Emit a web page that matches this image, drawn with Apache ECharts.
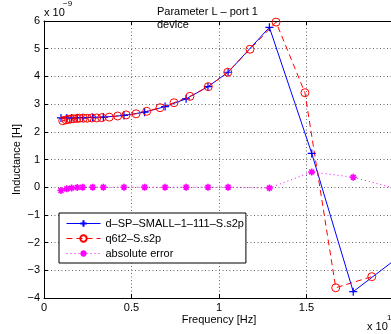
<!DOCTYPE html>
<html>
<head>
<meta charset="utf-8">
<script src="https://cdn.jsdelivr.net/npm/echarts@6.0.0/dist/echarts.min.js"></script>
<style>
  html, body { margin: 0; padding: 0; background: #fff; }
  #chart { width: 391px; height: 334px; }
</style>
</head>
<body>
<div id="chart"></div>
<script>
// frequency in 1e10 Hz, inductance in 1e-9 H
var measFreq = [0.097, 0.13, 0.158, 0.19, 0.221, 0.278, 0.339, 0.457, 0.575, 0.692, 0.812, 0.937, 1.052, 1.288, 1.53, 1.767, 2.01];
var measL = [2.50, 2.50, 2.50, 2.51, 2.51, 2.52, 2.53, 2.59, 2.71, 2.91, 3.19, 3.63, 4.15, 5.77, 1.22, -3.77, -2.6];
var errL = [-0.12, -0.06, -0.03, -0.01, 0, 0, 0, 0, 0, 0, 0, 0, 0, -0.03, 0.55, 0.36, -0.05];

var modelFreq = [0.107, 0.126, 0.139, 0.153, 0.167, 0.187, 0.202, 0.225, 0.247, 0.273, 0.301, 0.33, 0.373, 0.421,
  0.469, 0.526, 0.587, 0.663, 0.743, 0.834, 0.939, 1.05, 1.177, 1.326, 1.491, 1.667, 1.873];
var modelL = [2.40, 2.43, 2.45, 2.46, 2.47, 2.48, 2.49, 2.49, 2.49, 2.50, 2.50, 2.51, 2.53, 2.57,
  2.61, 2.65, 2.74, 2.87, 3.05, 3.28, 3.63, 4.15, 4.98, 5.96, 3.41, -3.63, -3.23];

var seriesNames = ['d\u2013SP\u2013SMALL\u20131\u2013111\u2013S.s2p', 'q6t2\u2013S.s2p', 'absolute error'];

var FONT = '"Liberation Sans", Arial, sans-serif';
var PLUS = 'path://M0,-1L0,1M-1,0L1,0';
var STAR = 'path://M0,-1L0,1M-1,0L1,0M-0.7,-0.7L0.7,0.7M-0.7,0.7L0.7,-0.7';

function pairs(xs, ys) {
  return xs.map(function (x, i) { return [x, ys[i]]; });
}
function minus(v) {
  return String(v).replace('-', '\u2212');
}

var chart = echarts.init(document.getElementById('chart'), null, { renderer: 'canvas' });

var gridLine = { show: true, lineStyle: { color: '#666', type: [1, 2.5], width: 1 } };

chart.setOption({
  animation: false,
  textStyle: { fontFamily: FONT },
  grid: { left: 44, top: 21, width: 350, height: 277, containLabel: false, outerBoundsMode: 'none' },
  xAxis: [
    {
      type: 'value', min: 0, max: 2, interval: 0.5, position: 'bottom',
      name: 'Frequency [Hz]', nameLocation: 'middle', nameGap: 16, nameMoveOverlap: false,
      nameTextStyle: { color: '#000', fontSize: 11, fontFamily: FONT },
      axisLine: { onZero: false, lineStyle: { color: '#000', width: 1 } },
      axisTick: { inside: true, length: 4, lineStyle: { color: '#000' } },
      axisLabel: { color: '#000', fontSize: 11, margin: 4, fontFamily: FONT },
      splitLine: gridLine
    },
    {
      type: 'value', min: 0, max: 2, interval: 0.5, position: 'top',
      axisLine: { onZero: false, lineStyle: { color: '#000', width: 1 } },
      axisTick: { inside: true, length: 4, lineStyle: { color: '#000' } },
      axisLabel: { show: false },
      splitLine: { show: false }
    }
  ],
  yAxis: {
    type: 'value', min: -4, max: 6, interval: 1,
    name: 'Inductance [H]', nameLocation: 'middle', nameGap: 22, nameRotate: 90, nameMoveOverlap: false,
    nameTextStyle: { color: '#000', fontSize: 11, fontFamily: FONT },
    axisLine: { onZero: false, lineStyle: { color: '#000', width: 1 } },
    axisTick: { inside: true, length: 4, lineStyle: { color: '#000' } },
    axisLabel: { color: '#000', fontSize: 11, margin: 4, fontFamily: FONT, formatter: minus },
    splitLine: gridLine
  },
  legend: {
    orient: 'vertical', left: 59, top: 213,
    padding: [5, 2, 4, 7], itemGap: 4, itemWidth: 34, itemHeight: 8,
    backgroundColor: '#fff', borderColor: '#000', borderWidth: 1,
    lineStyle: { width: 1 },
    textStyle: { color: '#000', fontSize: 11, fontFamily: FONT, padding: [0, 0, 0, 0] },
    data: seriesNames
  },
  graphic: [
    { type: 'text', left: 157, top: 5, style: { text: 'Parameter L \u2013 port 1\ndevice', fill: '#000', font: '11px ' + FONT, lineHeight: 13 } },
    { type: 'text', left: 44, top: 7, style: { text: 'x 10', fill: '#000', font: '11px ' + FONT } },
    { type: 'text', left: 63, top: 0, style: { text: '\u22129', fill: '#000', font: '8px ' + FONT } },
    { type: 'text', left: 367, top: 321, style: { text: 'x 10', fill: '#000', font: '11px ' + FONT } },
    { type: 'text', left: 387, top: 314, style: { text: '10', fill: '#000', font: '8px ' + FONT } }
  ],
  series: [
    {
      name: seriesNames[0], type: 'line', data: pairs(measFreq, measL), clip: true,
      symbol: PLUS, symbolSize: 8, showAllSymbol: true,
      lineStyle: { color: '#0000ff', width: 1 },
      itemStyle: { color: 'rgba(0,0,0,0)', borderColor: '#0000ff', borderWidth: 1.2 },
      emphasis: { disabled: true }
    },
    {
      name: seriesNames[1], type: 'line', data: pairs(modelFreq, modelL), clip: true,
      symbol: 'circle', symbolSize: 8, showAllSymbol: true,
      lineStyle: { color: '#ff0000', width: 1, type: [6, 4] },
      itemStyle: { color: 'rgba(0,0,0,0)', borderColor: '#ff0000', borderWidth: 1 },
      emphasis: { disabled: true }
    },
    {
      name: seriesNames[2], type: 'line', data: pairs(measFreq, errL), clip: true,
      symbol: STAR, symbolSize: 7, showAllSymbol: true,
      lineStyle: { color: '#ff00ff', width: 1, type: [1, 3] },
      itemStyle: { color: 'rgba(0,0,0,0)', borderColor: '#ff00ff', borderWidth: 1.6 },
      emphasis: { disabled: true }
    }
  ]
});
</script>
</body>
</html>
